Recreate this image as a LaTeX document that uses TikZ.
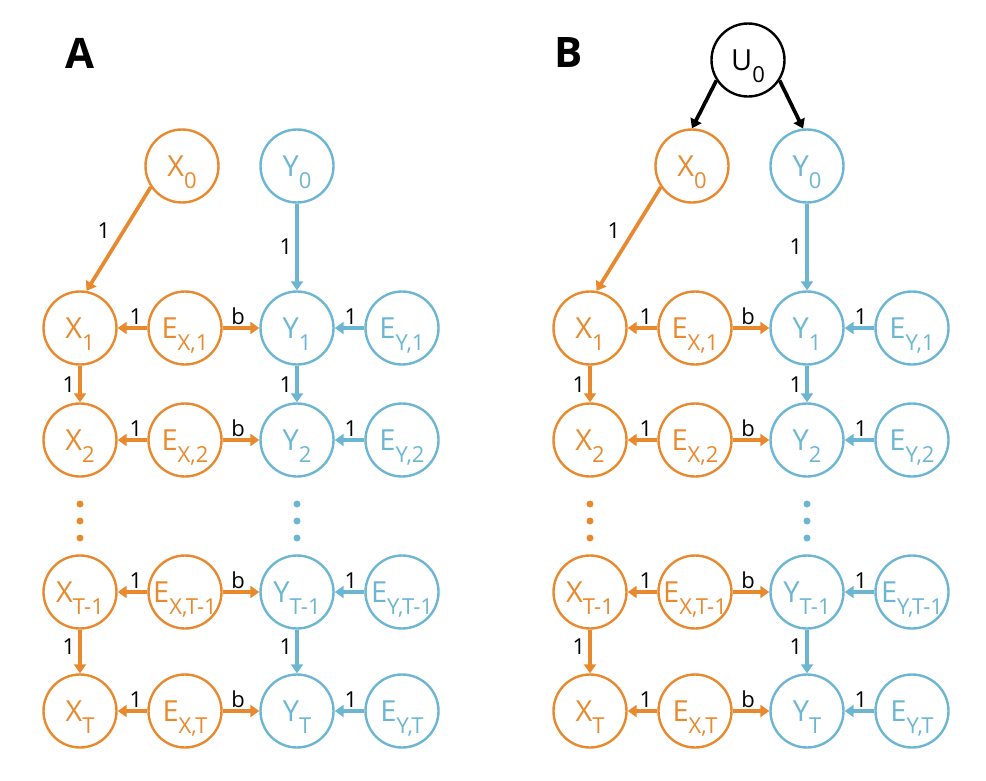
\documentclass[tikz,border=0pt]{standalone}
\usepackage{fontspec}
\setmainfont{Open Sans}
\usetikzlibrary{arrows.meta}
\definecolor{orX}{RGB}{232,137,46}
\definecolor{blY}{RGB}{108,182,212}
\newcommand{\mysb}[1]{\raisebox{-12pt}[0pt][0pt]{\fontsize{22}{22}\selectfont #1}}
\begin{document}
\begin{tikzpicture}[x=1pt,y=-1pt,
  nd/.style={circle,draw,line width=2.4pt,minimum size=73pt,inner sep=0pt,font=\fontsize{29}{29}\selectfont},
  xn/.style={nd,draw=orX,text=orX},
  yn/.style={nd,draw=blY,text=blY},
  un/.style={nd,draw=black,text=black},
  arr/.style={line width=3.7pt,-{Triangle[length=9pt,width=12pt]}},
  xa/.style={arr,draw=orX},
  ya/.style={arr,draw=blY},
  ua/.style={arr,draw=black},
  lab/.style={font=\fontsize{22}{22}\selectfont,text=black,inner sep=0pt},
  panel/.style={font=\fontsize{42}{42}\selectfont\bfseries,text=black,inner sep=0pt},
  dotc/.style={circle,inner sep=0pt,minimum size=7pt},
]
\useasboundingbox (0,0) rectangle (986,780);
\node[panel] (LA) at (80,53) {A};
\node[panel] (LB) at (569,53) {B};
\node[un] (U0) at (748,60) {U\mysb{0}};
\foreach \p/\o in {A/0,B/510}{
\begin{scope}[shift={(\o,0)}]
  \node[xn] (\p X0) at (182,166) {X\mysb{0}};
  \node[yn] (\p Y0) at (297,166) {Y\mysb{0}};
  \node[xn] (\p X1) at (80,328) {X\mysb{1}};
  \node[xn] (\p EX1) at (185,328) {E\mysb{X,1}};
  \node[yn] (\p Y1) at (297,328) {Y\mysb{1}};
  \node[yn] (\p EY1) at (402,328) {E\mysb{Y,1}};
  \node[xn] (\p X2) at (80,440) {X\mysb{2}};
  \node[xn] (\p EX2) at (185,440) {E\mysb{X,2}};
  \node[yn] (\p Y2) at (297,440) {Y\mysb{2}};
  \node[yn] (\p EY2) at (402,440) {E\mysb{Y,2}};
  \node[xn] (\p XT1) at (80,592) {X\mysb{T-1}};
  \node[xn] (\p EXT1) at (185,592) {E\mysb{X,T-1}};
  \node[yn] (\p YT1) at (297,592) {Y\mysb{T-1}};
  \node[yn] (\p EYT1) at (402,592) {E\mysb{Y,T-1}};
  \node[xn] (\p XT) at (80,711) {X\mysb{T}};
  \node[xn] (\p EXT) at (185,711) {E\mysb{X,T}};
  \node[yn] (\p YT) at (297,711) {Y\mysb{T}};
  \node[yn] (\p EYT) at (402,711) {E\mysb{Y,T}};
  % dots
  \foreach \yy/\k in {504/a,521/b,538/c}{
    \node[dotc,fill=orX] (\p dx\k) at (80,\yy) {};
    \node[dotc,fill=blY] (\p dy\k) at (297,\yy) {};
  }
  % arrows
  \draw[xa] (\p X0.214) -- (\p X1.80);
  \draw[ya] (\p Y0) -- (\p Y1);
  \draw[xa] (\p X1) -- (\p X2);
  \draw[ya] (\p Y1) -- (\p Y2);
  \draw[xa] (\p XT1) -- (\p XT);
  \draw[ya] (\p YT1) -- (\p YT);
  \foreach \r in {1,2,T1,T}{
    \draw[xa] (\p EX\r) -- (\p X\r);
    \draw[xa] (\p EX\r) -- (\p Y\r);
    \draw[ya] (\p EY\r) -- (\p Y\r);
  }
  % labels
  \node[lab] (\p l0x) at (104,231) {1};
  \node[lab] (\p l0y) at (286,247) {1};
  \node[lab] (\p l12x) at (69,385) {1};
  \node[lab] (\p l12y) at (286,385) {1};
  \node[lab] (\p lTx) at (69,647) {1};
  \node[lab] (\p lTy) at (286,647) {1};
  \foreach \r/\yy in {1/328,2/440,T1/592,T/711}{
    \node[lab] (\p la\r) at (136,\yy-11) {1};
    \node[lab] (\p lb\r) at (238,\yy-12) {b};
    \node[lab] (\p lc\r) at (351,\yy-11) {1};
  }
\end{scope}
}
\draw[ua] (U0.213) -- (BX0.north);
\draw[ua] (U0.327) -- (BY0.96);
\end{tikzpicture}
\end{document}
